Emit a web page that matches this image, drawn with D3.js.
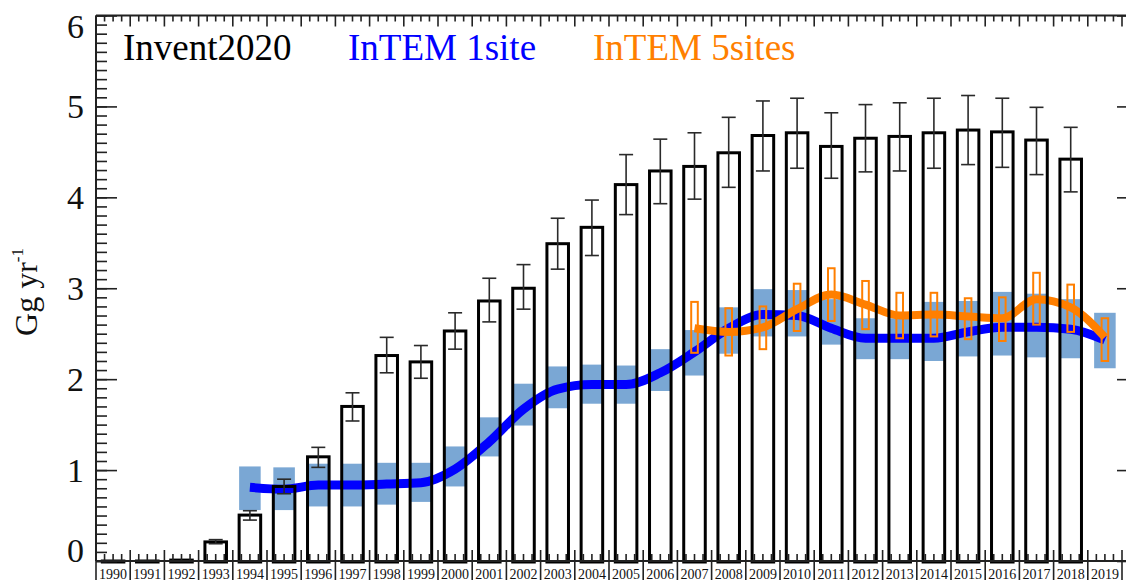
<!DOCTYPE html>
<html>
<head>
<meta charset="utf-8">
<script src="https://cdn.jsdelivr.net/npm/d3@7"></script>
<style>
  body { margin: 0; background: #fff; }
  svg { display: block; font-family: "Liberation Serif", "Times New Roman", serif; }
</style>
</head>
<body>
<svg id="chart" width="1126" height="580"></svg>
<script>
// Year categories on the x axis
const years = [1990,1991,1992,1993,1994,1995,1996,1997,1998,1999,2000,2001,2002,2003,2004,
               2005,2006,2007,2008,2009,2010,2011,2012,2013,2014,2015,2016,2017,2018,2019];

// Invent2020 inventory (Gg/yr) with uncertainty range
const inventYears = [1990,1991,1992,1993,1994,1995,1996,1997,1998,1999,2000,2001,2002,2003,2004,
                     2005,2006,2007,2008,2009,2010,2011,2012,2013,2014,2015,2016,2017,2018];
const inventValue = [0.0,0.0,0.01,0.21,0.505,0.82,1.146,1.70,2.26,2.19,2.53,2.86,3.00,3.49,3.67,
                     4.14,4.29,4.34,4.49,4.68,4.71,4.56,4.65,4.67,4.71,4.74,4.72,4.63,4.42];
const inventLow   = [0.0,0.0,0.01,0.19,0.45,0.74,1.03,1.54,2.07,2.01,2.33,2.63,2.77,3.21,3.36,
                     3.81,3.93,3.98,4.11,4.29,4.32,4.21,4.28,4.29,4.32,4.36,4.33,4.25,4.06];
const inventHigh  = [0.0,0.0,0.01,0.235,0.553,0.90,1.25,1.85,2.46,2.37,2.73,3.11,3.26,3.77,3.97,
                     4.47,4.64,4.71,4.88,5.06,5.09,4.93,5.02,5.04,5.09,5.12,5.09,4.99,4.77];

// InTEM 1 site estimate with uncertainty band
const intem1Years = [1994,1995,1996,1997,1998,1999,2000,2001,2002,2003,2004,2005,2006,
                     2007,2008,2009,2010,2011,2012,2013,2014,2015,2016,2017,2018,2019];
const intem1Value = [0.81,0.79,0.835,0.835,0.846,0.86,1.01,1.31,1.67,1.89,1.94,1.94,2.07,
                     2.30,2.56,2.71,2.70,2.56,2.45,2.45,2.45,2.52,2.57,2.57,2.55,2.43];
const intem1Low   = [0.56,0.56,0.60,0.60,0.62,0.65,0.82,1.15,1.49,1.68,1.73,1.73,1.87,
                     2.04,2.28,2.47,2.47,2.38,2.22,2.22,2.20,2.25,2.26,2.24,2.23,2.12];
const intem1High  = [1.04,1.03,1.07,1.07,1.08,1.08,1.26,1.58,1.95,2.14,2.16,2.15,2.33,
                     2.54,2.79,2.99,2.98,2.88,2.67,2.67,2.85,2.86,2.96,2.94,2.88,2.73];

// InTEM 5 sites estimate with uncertainty range
const intem5Years = [2007,2008,2009,2010,2011,2012,2013,2014,2015,2016,2017,2018,2019];
const intem5Value = [2.56,2.52,2.57,2.77,2.93,2.82,2.70,2.71,2.69,2.67,2.88,2.79,2.46];
const intem5Low   = [2.29,2.26,2.33,2.53,2.64,2.55,2.45,2.47,2.44,2.42,2.60,2.52,2.20];
const intem5High  = [2.85,2.78,2.80,3.05,3.22,3.08,2.95,2.95,2.89,2.90,3.17,3.04,2.67];

const yTicks = [0,1,2,3,4,5,6];
const yMinorTicks = d3.range(0, 61).map(i => i / 10);

const svg = d3.select("#chart");
const left = 96, right = 1122, axisRight = 1138;

const x = d3.scaleBand().domain(years).range([left, right]).padding(0);
const y = d3.scaleLinear().domain([0, 6]).range([561, 15.5]);
const cx = d => x(d) + x.bandwidth() / 2;
const barW = x.bandwidth() * 0.63;

const blueBox = "#7aa7d4";
const orange = "#ff7f00";

// InTEM 1site uncertainty boxes
svg.append("g").selectAll("rect")
  .data(intem1Years.map((yr, i) => ({yr, lo: intem1Low[i], hi: intem1High[i]})))
  .join("rect")
  .attr("x", d => cx(d.yr) - barW / 2)
  .attr("width", barW)
  .attr("y", d => y(d.hi))
  .attr("height", d => y(d.lo) - y(d.hi))
  .attr("fill", blueBox);

// InTEM 1site line
const line = d3.line().x(d => cx(d.yr)).y(d => y(d.v)).curve(d3.curveMonotoneX);
svg.append("path")
  .datum(intem1Years.map((yr, i) => ({yr, v: intem1Value[i]})))
  .attr("d", line)
  .attr("fill", "none")
  .attr("stroke", "#0000ff")
  .attr("stroke-width", 9);

// InTEM 5sites line
svg.append("path")
  .datum(intem5Years.map((yr, i) => ({yr, v: intem5Value[i]})))
  .attr("d", line)
  .attr("fill", "none")
  .attr("stroke", orange)
  .attr("stroke-width", 8);

// InTEM 5sites uncertainty boxes (hollow)
svg.append("g").selectAll("rect")
  .data(intem5Years.map((yr, i) => ({yr, lo: intem5Low[i], hi: intem5High[i]})))
  .join("rect")
  .attr("x", d => cx(d.yr) - 3.3)
  .attr("width", 6.6)
  .attr("y", d => y(d.hi))
  .attr("height", d => y(d.lo) - y(d.hi))
  .attr("fill", "none")
  .attr("stroke", orange)
  .attr("stroke-width", 2);

// Invent2020 bars (outline only); zero-height bars sit just under the axis
svg.append("g").selectAll("rect")
  .data(inventYears.map((yr, i) => ({yr, v: inventValue[i]})))
  .join("rect")
  .attr("x", d => cx(d.yr) - barW / 2)
  .attr("width", barW)
  .attr("y", d => y(d.v))
  .attr("height", d => y(0) - y(d.v) + 1)
  .attr("fill", "none")
  .attr("stroke", "#000")
  .attr("stroke-width", 3);

// Invent2020 error bars
const eb = svg.append("g").attr("stroke", "#2a2a2a").attr("stroke-width", 1.6);
inventYears.forEach((yr, i) => {
  if (inventHigh[i] - inventLow[i] <= 0) return;
  const c = cx(yr);
  eb.append("line").attr("x1", c).attr("x2", c).attr("y1", y(inventLow[i])).attr("y2", y(inventHigh[i]));
  eb.append("line").attr("x1", c - 7).attr("x2", c + 7).attr("y1", y(inventLow[i])).attr("y2", y(inventLow[i]));
  eb.append("line").attr("x1", c - 7).attr("x2", c + 7).attr("y1", y(inventHigh[i])).attr("y2", y(inventHigh[i]));
});

// Frame
const axisColor = "#222";
const frame = svg.append("g").attr("stroke", axisColor).attr("stroke-width", 2);
frame.append("line").attr("x1", left).attr("x2", left).attr("y1", y(6)).attr("y2", y(0));
frame.append("line").attr("x1", axisRight).attr("x2", axisRight).attr("y1", y(6)).attr("y2", y(0));
frame.append("line").attr("x1", left).attr("x2", axisRight + 10).attr("y1", y(6)).attr("y2", y(6));
frame.append("line").attr("x1", left).attr("x2", axisRight + 10).attr("y1", y(0)).attr("y2", y(0));

// Left and right y axes: minor and major ticks pointing inward
const tickAttrs = g => g.call(s => s.select(".domain").remove())
                        .selectAll("line").attr("stroke", axisColor).attr("stroke-width", 1.6);
svg.append("g").attr("transform", `translate(${left},0)`)
  .call(d3.axisLeft(y).tickValues(yMinorTicks).tickSize(-11).tickFormat(""))
  .call(tickAttrs);
svg.append("g").attr("transform", `translate(${left},0)`)
  .call(d3.axisLeft(y).tickValues(yTicks).tickSize(-21).tickFormat(""))
  .call(tickAttrs);
svg.append("g").attr("transform", `translate(${axisRight},0)`)
  .call(d3.axisRight(y).tickValues(yMinorTicks).tickSize(-11).tickFormat(""))
  .call(tickAttrs);
svg.append("g").attr("transform", `translate(${axisRight},0)`)
  .call(d3.axisRight(y).tickValues(yTicks).tickSize(-21).tickFormat(""))
  .call(tickAttrs);

// Y tick labels
svg.append("g").selectAll("text")
  .data(yTicks)
  .join("text")
  .attr("x", 84)
  .attr("y", d => {
    let c = y(d);
    if (d === 0) c -= 11;
    if (d === 6) c += 11;
    return c + 11.5;
  })
  .attr("text-anchor", "end")
  .attr("font-size", 34)
  .attr("fill", "#111")
  .text(d => d);

// X axis: category boundaries and quarter minor ticks on top and bottom
const bounds = years.map(yr => x(yr)).concat([right]);
const minorX = [];
years.forEach(yr => [0.25, 0.5, 0.75].forEach(f => minorX.push(x(yr) + f * x.bandwidth())));
const xt = svg.append("g").attr("stroke", axisColor).attr("stroke-width", 1.6);
bounds.forEach(bx => {
  xt.append("line").attr("x1", bx).attr("x2", bx).attr("y1", y(0) - 11).attr("y2", 590);
  xt.append("line").attr("x1", bx).attr("x2", bx).attr("y1", y(6)).attr("y2", y(6) + 11);
});
minorX.forEach(mx => {
  xt.append("line").attr("x1", mx).attr("x2", mx).attr("y1", y(0) - 7).attr("y2", y(0));
  xt.append("line").attr("x1", mx).attr("x2", mx).attr("y1", y(6)).attr("y2", y(6) + 6);
});

// Year labels
svg.append("g").selectAll("text")
  .data(years)
  .join("text")
  .attr("x", d => cx(d))
  .attr("y", 578.5)
  .attr("text-anchor", "middle")
  .attr("font-size", 14)
  .attr("fill", "#111")
  .text(d => d);

// Y axis title
const yt = svg.append("text")
  .attr("transform", "translate(37,292) rotate(-90)")
  .attr("text-anchor", "middle")
  .attr("font-size", 32)
  .attr("fill", "#111");
yt.append("tspan").text("Gg yr");
yt.append("tspan").attr("font-size", 17).attr("dy", -14).text("-1");

// Legend
const legend = [
  {label: "Invent2020", color: "#000", x: 123},
  {label: "InTEM 1site", color: "#0000ff", x: 348},
  {label: "InTEM 5sites", color: orange, x: 593}
];
svg.append("g").selectAll("text")
  .data(legend)
  .join("text")
  .attr("x", d => d.x)
  .attr("y", 60)
  .attr("font-size", 37)
  .attr("fill", d => d.color)
  .text(d => d.label);
</script>
</body>
</html>
